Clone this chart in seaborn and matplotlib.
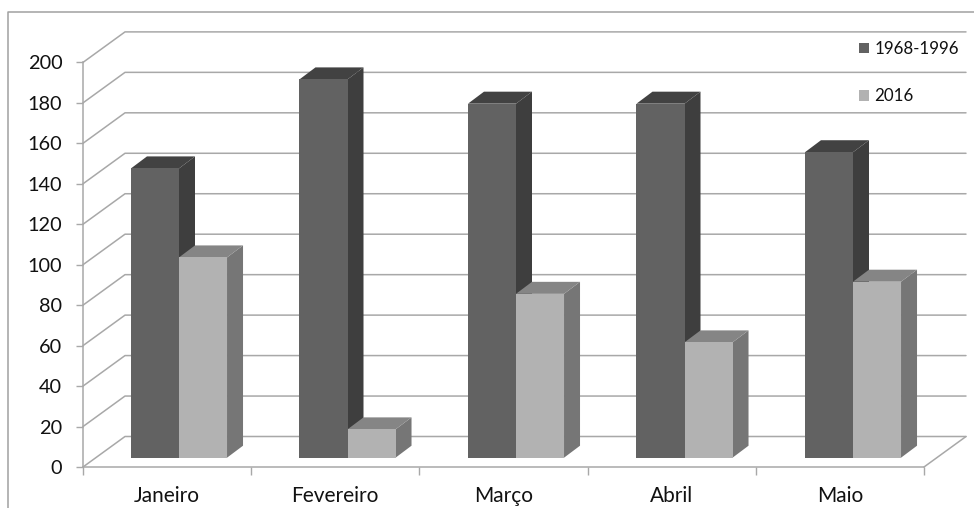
import matplotlib
matplotlib.use("Agg")
import matplotlib.pyplot as plt
from matplotlib.lines import Line2D
from matplotlib.patches import Polygon
import pandas as pd
import seaborn as sns

meses = ["Janeiro", "Fevereiro", "Março", "Abril", "Maio"]
periodo_1968_1996 = [143, 187, 175, 175, 151]
periodo_2016 = [99, 14, 81, 57, 87]
ticks_y = list(range(0, 201, 20))

df = pd.DataFrame({
    "Mes": meses * 2,
    "Periodo": ["1968-1996"] * 5 + ["2016"] * 5,
    "Valor": periodo_1968_1996 + periodo_2016,
})

sns.set_theme(style="white")
plt.rcParams["font.family"] = ["Lato", "DejaVu Sans"]

W, H = 974, 508
cor_linha = "#a8a8a8"
cores_frente = {"1968-1996": "#626262", "2016": "#b2b2b2"}
cores_topo = ["#424242", "#858585"]
cores_lado = ["#3e3e3e", "#767676"]

fig = plt.figure(figsize=(W / 100, H / 100), dpi=100, facecolor="white")
ax = fig.add_axes([83 / W, 1 - 467 / H, (924 - 83) / W, (467 - 62) / H])

sns.barplot(data=df, x="Mes", y="Valor", hue="Periodo", palette=cores_frente,
            width=0.57, gap=0, saturation=1, ax=ax, zorder=5, linewidth=0)

# escalas: pixels por categoria e por unidade do eixo y
px_x = 168.5
px_y = 2.023
x_esq = -(179 - 83) / px_x
x_dir = (924 - 179) / px_x
base = -(467 - 457.7) / px_y
ax.set_xlim(x_esq, x_dir)
ax.set_ylim(base, base + (467 - 62) / px_y)

# paredes do grafico (linhas de grade em perspectiva)
parede_dx = 42 / px_x
parede_dy = 30.5 / px_y
for v in ticks_y:
    y = v + base
    ax.plot([x_esq, x_esq + parede_dx, x_dir + parede_dx], [y, y + parede_dy, y + parede_dy],
            color=cor_linha, lw=1.1, clip_on=False, zorder=1)
ax.plot([x_dir, x_dir + parede_dx], [base, base + parede_dy],
        color=cor_linha, lw=1.1, clip_on=False, zorder=1)

# faces laterais e de cima das barras
dx = 16 / px_x
dy = 12 / px_y
for c, container in enumerate(ax.containers):
    for bar in container:
        x0 = bar.get_x()
        x1 = x0 + bar.get_width()
        h = bar.get_height()
        ax.add_patch(Polygon([(x1, 0), (x1 + dx, dy), (x1 + dx, h + dy), (x1, h)],
                             fc=cores_lado[c], ec="none", zorder=2 + c))
        ax.add_patch(Polygon([(x0, h), (x0 + dx, h + dy), (x1 + dx, h + dy), (x1, h)],
                             fc=cores_topo[c], ec="none", zorder=2 + c))

# eixos
sns.despine(ax=ax)
for lado in ["left", "bottom"]:
    ax.spines[lado].set_color(cor_linha)
    ax.spines[lado].set_linewidth(1.1)
ax.set_xlabel("")
ax.set_ylabel("")
ax.set_yticks([v + base for v in ticks_y], [str(v) for v in ticks_y])
largura = (x_dir - x_esq) / 5
ax.set_xticks([x_esq + largura * i for i in range(6)], [""] * 6)
ax.set_xticks([x_esq + largura * (i + 0.5) for i in range(5)], meses, minor=True)
ax.tick_params(axis="y", length=5, width=1, color=cor_linha, left=True, pad=10,
               labelsize=14.3, labelcolor="#111111")
ax.tick_params(axis="x", which="major", length=5.5, width=1, color=cor_linha, bottom=True)
ax.tick_params(axis="x", which="minor", length=0, pad=14, labelsize=15, labelcolor="#111111")

ax.legend(loc="upper left", bbox_to_anchor=(859 / W, 1 - 41 / H), bbox_transform=fig.transFigure,
          frameon=False, labelcolor="#111111", fontsize=12.2, borderpad=0, borderaxespad=0,
          labelspacing=1.85, handlelength=0.6, handleheight=0.6, handletextpad=0.3)

# moldura da imagem
fig.add_artist(Line2D([8 / W, 8 / W, 1], [0, 1 - 12 / H, 1 - 12 / H], color="#a0a0a0", lw=1.1))

plt.savefig("out.png", dpi=100)
